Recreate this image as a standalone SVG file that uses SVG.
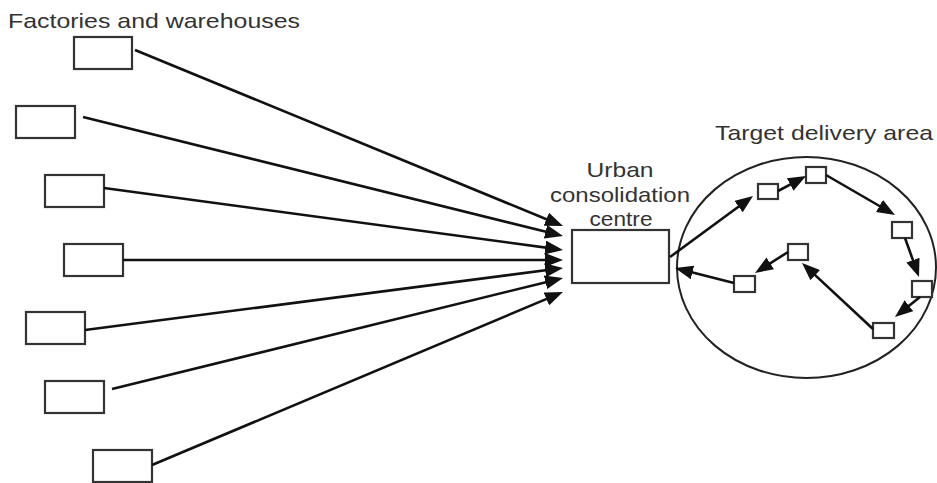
<svg xmlns="http://www.w3.org/2000/svg" width="937" height="483" viewBox="0 0 937 483">
  <defs>
    <marker id="head" viewBox="0 0 18 14" markerWidth="18" markerHeight="14" refX="10" refY="7" orient="auto" markerUnits="userSpaceOnUse">
      <path d="M0,0 L18,7 L0,14 z" fill="#111"/>
    </marker>
    <style>
      .box { fill: #fff; stroke: #333; stroke-width: 2.2; }
      .stop { fill: #fff; stroke: #333; stroke-width: 2.2; }
      .area { fill: none; stroke: #222; stroke-width: 2; }
      .lbl { font-family: "Liberation Sans", Arial, sans-serif; font-size: 21px; fill: #333; }
      .link { stroke: #111; stroke-width: 2.6; fill: none; marker-end: url(#head); }
    </style>
  </defs>
  <rect width="937" height="483" fill="#fff"/>

  <text class="lbl" x="8" y="28" textLength="292" lengthAdjust="spacingAndGlyphs">Factories and warehouses</text>

  <!-- sources -->
  <g id="factory1"><rect class="box" x="74" y="37" width="58" height="32"/></g>
  <g id="factory2"><rect class="box" x="16" y="106" width="59" height="32"/></g>
  <g id="factory3"><rect class="box" x="45" y="175" width="59" height="32"/></g>
  <g id="factory4"><rect class="box" x="64" y="244" width="59" height="32"/></g>
  <g id="factory5"><rect class="box" x="26" y="312" width="59" height="32"/></g>
  <g id="factory6"><rect class="box" x="45" y="381" width="59" height="32"/></g>
  <g id="factory7"><rect class="box" x="93" y="450" width="59" height="32"/></g>

  <!-- consolidation centre -->
  <g id="ucc">
    <rect class="box" x="572" y="230" width="97" height="53"/>
    <text class="lbl" x="620" y="177" text-anchor="middle" textLength="67" lengthAdjust="spacingAndGlyphs">Urban</text>
    <text class="lbl" x="620" y="202" text-anchor="middle" textLength="140" lengthAdjust="spacingAndGlyphs">consolidation</text>
    <text class="lbl" x="621" y="226" text-anchor="middle" textLength="63" lengthAdjust="spacingAndGlyphs">centre</text>
  </g>

  <!-- delivery area -->
  <g id="area">
    <ellipse class="area" cx="806.5" cy="267.5" rx="129.5" ry="110.5"/>
    <text class="lbl" x="715" y="140" textLength="218" lengthAdjust="spacingAndGlyphs">Target delivery area</text>
  </g>
  <g id="stop1"><rect class="stop" x="758" y="184" width="20" height="15"/></g>
  <g id="stop2"><rect class="stop" x="806" y="167" width="20" height="16"/></g>
  <g id="stop3"><rect class="stop" x="892" y="222" width="20" height="16"/></g>
  <g id="stop4"><rect class="stop" x="912" y="281" width="20" height="16"/></g>
  <g id="stop5"><rect class="stop" x="873" y="323" width="21" height="15"/></g>
  <g id="stop6"><rect class="stop" x="788" y="244" width="20" height="16"/></g>
  <g id="stop7"><rect class="stop" x="734" y="276" width="21" height="16"/></g>

  <!-- connectors -->
  <g id="connectors">
    <line class="link" x1="135" y1="50" x2="555.6" y2="223"/>
    <line class="link" x1="83" y1="117" x2="555.2" y2="234.1"/>
    <line class="link" x1="104" y1="188" x2="555.1" y2="248.9"/>
    <line class="link" x1="123" y1="260" x2="555" y2="260"/>
    <line class="link" x1="85" y1="330" x2="555.1" y2="269"/>
    <line class="link" x1="112" y1="389" x2="555.2" y2="279.9"/>
    <line class="link" x1="152" y1="465" x2="555.6" y2="295.1"/>

    <line class="link" x1="670" y1="257" x2="746.6" y2="200.7"/>
    <line class="link" x1="778" y1="191" x2="799" y2="179.8"/>
    <line class="link" x1="826" y1="175" x2="888.1" y2="211"/>
    <line class="link" x1="905" y1="238" x2="916.3" y2="269.5"/>
    <line class="link" x1="920" y1="297" x2="901.2" y2="312"/>
    <line class="link" x1="873" y1="329" x2="807.9" y2="268.4"/>
    <line class="link" x1="788" y1="252" x2="761.8" y2="268.7"/>
    <line class="link" x1="734" y1="283" x2="682.8" y2="270"/>
  </g>
</svg>
